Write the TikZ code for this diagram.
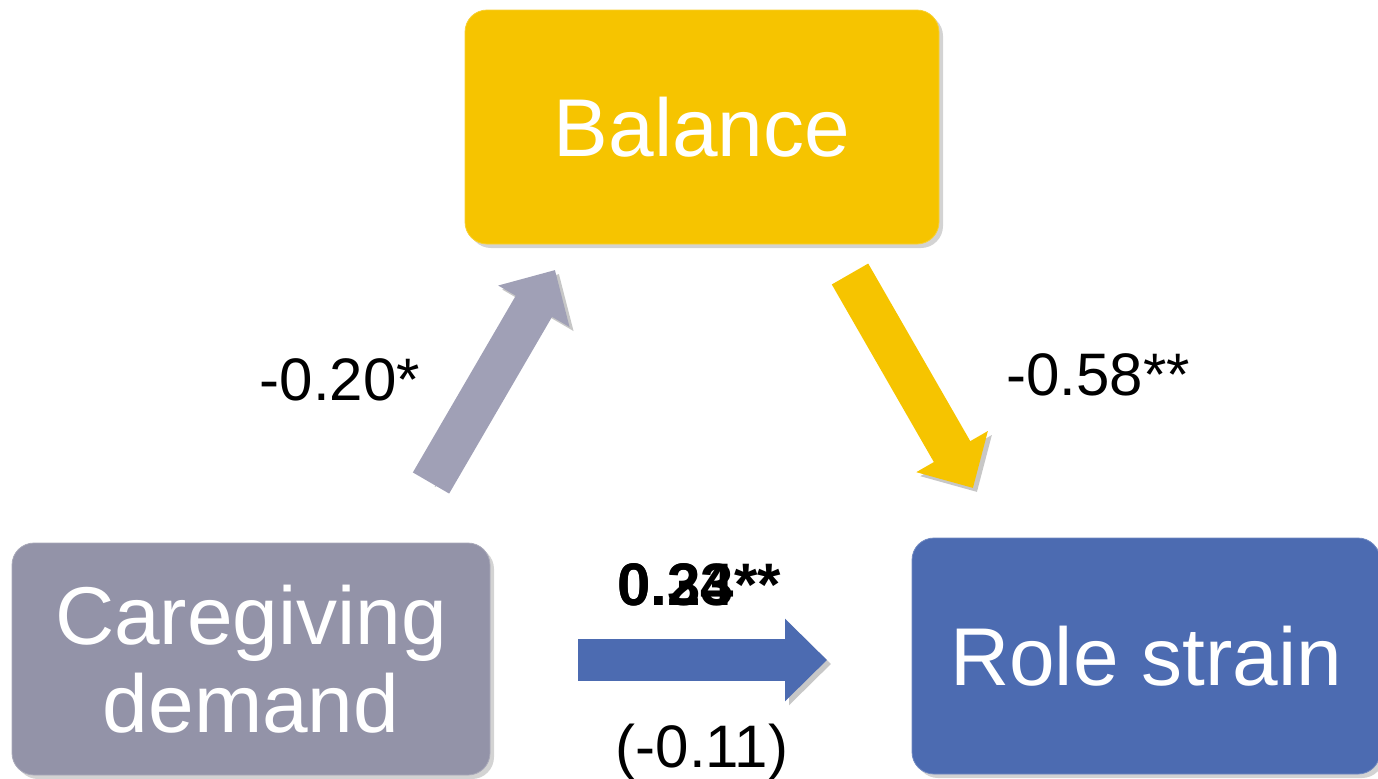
\documentclass[tikz,border=0pt]{standalone}
\usepackage{fontspec}
\setmainfont{Liberation Sans}
\usetikzlibrary{arrows.meta,shadows}
\definecolor{balgold}{HTML}{F6C400}
\definecolor{demgrey}{HTML}{9393A8}
\definecolor{strblue}{HTML}{4C6BB1}
\definecolor{arrgrey}{HTML}{A0A0B6}
\tikzset{
  varbox/.style={rounded corners=11pt, inner sep=0pt, align=center, text=white,
    font=\fontsize{41}{44}\selectfont,
    drop shadow={opacity=0.35, shadow xshift=2pt, shadow yshift=-2pt}},
  coef/.style={inner sep=0pt, font=\fontsize{30}{33}\selectfont},
  fatarrow/.style={line width=21pt, -{Triangle[length=21pt,width=40pt]},
    preaction={draw=black!22, transform canvas={shift={(2pt,-2pt)}}}}
}
\begin{document}
\begin{tikzpicture}[x=0.5pt,y=-0.5pt]
  \useasboundingbox (0,0) rectangle (1378,778);
  % the three variables
  \node[varbox, fill=balgold, draw=balgold!80!white, minimum width=237pt, minimum height=117pt] (bal) at (702,127) {Balance};
  \node[varbox, fill=demgrey, draw=demgrey!80!white, minimum width=239pt, minimum height=116pt] (dem) at (251,659) {Caregiving\\demand};
  \node[varbox, fill=strblue, draw=strblue!80!white, minimum width=234pt, minimum height=118pt] (str) at (1146,656) {Role strain};
  % arrow ends
  \coordinate (demout) at (431,483);
  \coordinate (balin) at (555,270);
  \coordinate (balout) at (850,274);
  \coordinate (strin) at (973,488);
  \coordinate (demright) at (578,660);
  \coordinate (strleft) at (827,660);
  \draw[fatarrow, arrgrey] (demout) -- (balin);
  \draw[fatarrow, balgold] (balout) -- (strin);
  \draw[fatarrow, strblue] (demright) -- (strleft);
  % coefficients
  \node[coef, anchor=base] (ca) at (340,400) {-0.20*};
  \node[coef, anchor=base] (cb) at (1098,395) {-0.58**};
  \node[coef, anchor=base west] (ctot) at (617,605) {\textbf{0.23}};
  \node[coef, anchor=base west] (cc) at (617,605) {\textbf{0.34**}};
  \node[coef, anchor=base] (cdir) at (702,767) {(-0.11)};
\end{tikzpicture}
\end{document}
